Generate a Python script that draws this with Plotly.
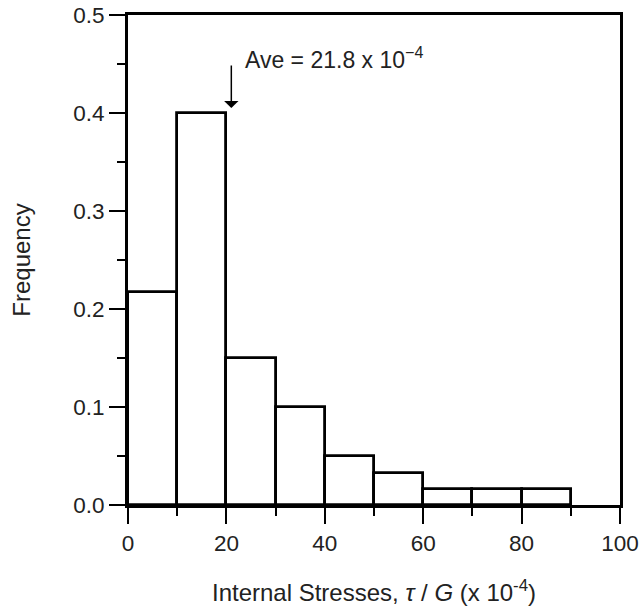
import plotly.graph_objects as go

bin_left = [0, 10, 20, 30, 40, 50, 60, 70, 80]
bin_width = 10
frequency = [0.217, 0.400, 0.150, 0.100, 0.050, 0.033, 0.0167, 0.0167, 0.0167]
bin_centers = [b + bin_width / 2 for b in bin_left]

ave_x = 21.0
ave_label = "Ave = 21.8 x 10<sup>−4</sup>"

FONT = "Liberation Sans, Arial, sans-serif"

fig = go.Figure()
fig.add_trace(go.Bar(
    x=bin_centers, y=frequency, width=[bin_width] * len(frequency),
    marker=dict(color="white", line=dict(color="black", width=2.8)),
    showlegend=False,
))

fig.add_annotation(
    x=ave_x, y=0.405, ax=ave_x, ay=0.45, xref="x", yref="y", axref="x", ayref="y",
    showarrow=True, arrowhead=1, arrowsize=1.6, arrowwidth=1.5, arrowcolor="black", text="",
)
fig.add_annotation(
    x=23.4, y=0.456, xref="x", yref="y", text=ave_label, showarrow=False,
    xanchor="left", yanchor="middle", font=dict(family=FONT, size=23, color="#222"),
)

fig.update_layout(
    width=639, height=609,
    margin=dict(l=128, r=19, t=15, b=104),
    plot_bgcolor="white", paper_bgcolor="white",
    font=dict(family=FONT, size=22.5, color="#222"),
    bargap=0,
)
fig.update_xaxes(
    range=[0, 100], dtick=20, tick0=0, showgrid=False, zeroline=False, automargin=False,
    showline=True, linecolor="black", linewidth=2.8, mirror=True,
    ticks="outside", ticklen=16, tickwidth=2, tickcolor="black", tickfont=dict(size=22.5),
    minor=dict(dtick=10, ticks="outside", ticklen=8, tickwidth=2, tickcolor="black", showgrid=False),
    title=dict(text="Internal Stresses, <i>τ</i> / <i>G</i> (x 10<sup>-4</sup>)", font=dict(size=24), standoff=30),
)
fig.update_yaxes(
    range=[0, 0.5], dtick=0.1, tick0=0, tickformat=".1f", showgrid=False, zeroline=False, automargin=False,
    showline=True, linecolor="black", linewidth=2.8, mirror=True,
    ticks="outside", ticklen=16, tickwidth=2, tickcolor="black", tickfont=dict(size=22.5),
    minor=dict(dtick=0.05, ticks="outside", ticklen=8, tickwidth=2, tickcolor="black", showgrid=False),
    title=dict(text="Frequency", font=dict(size=24), standoff=36),
)

fig.write_html("out.html")
